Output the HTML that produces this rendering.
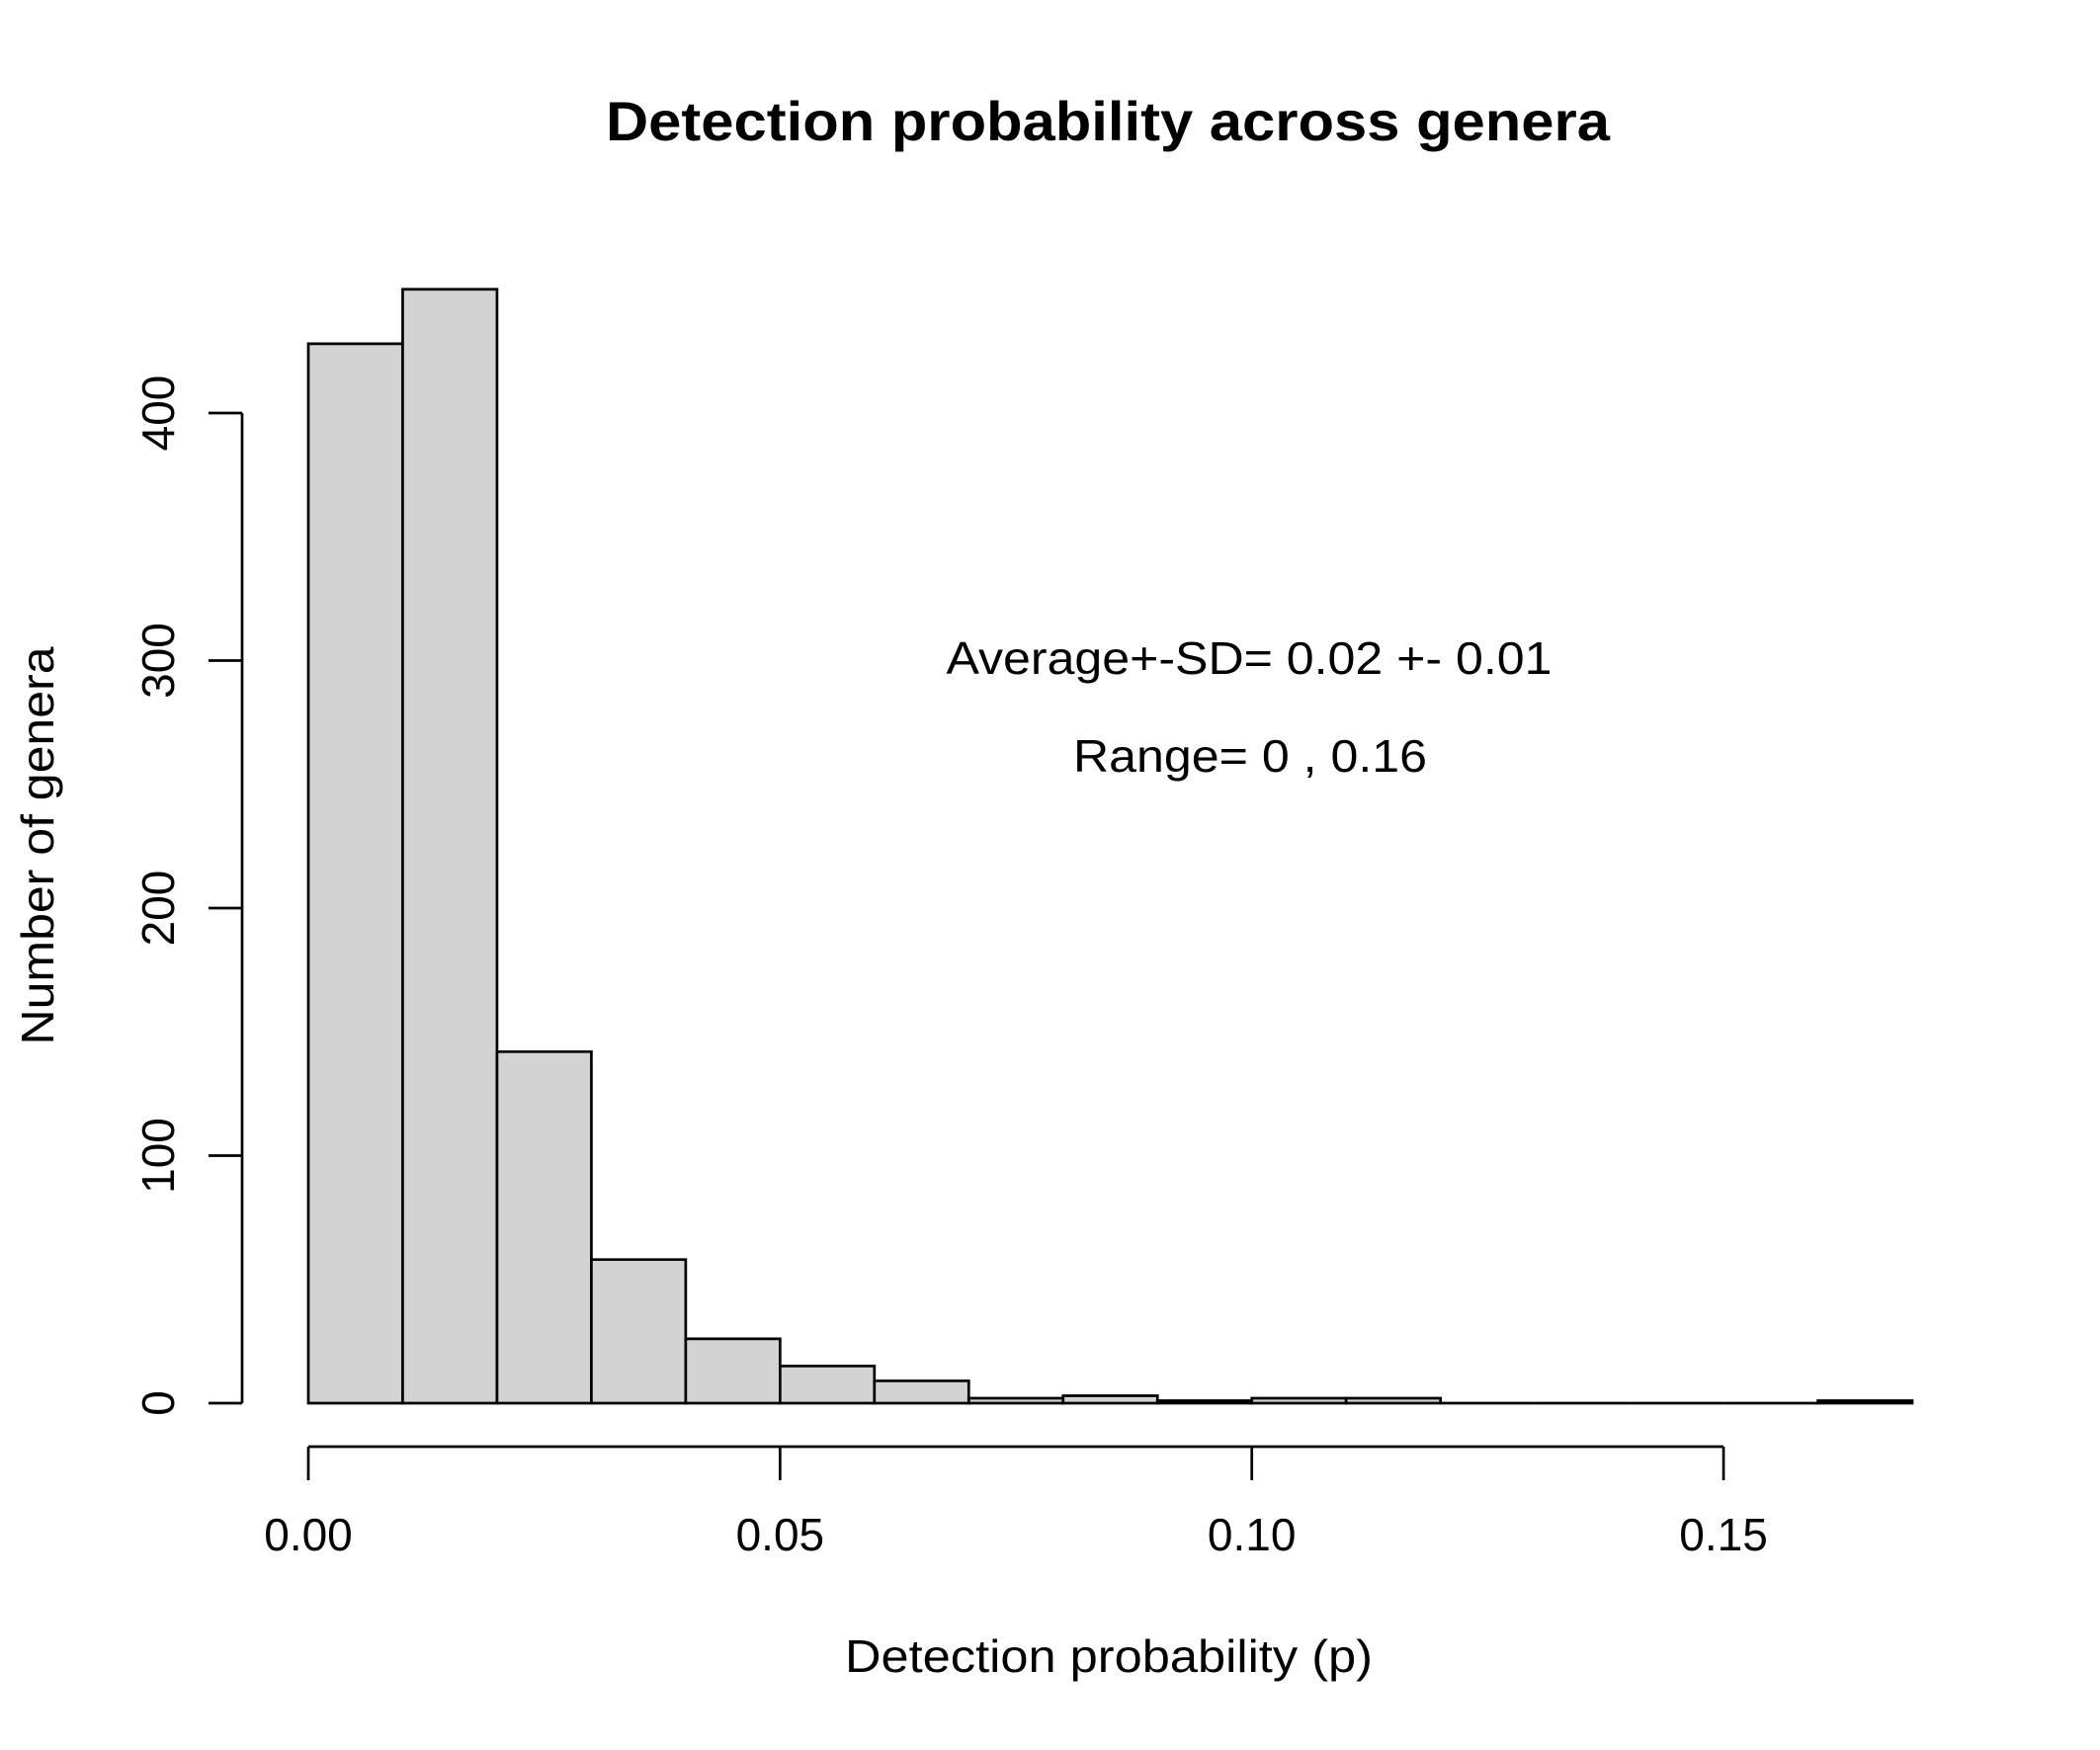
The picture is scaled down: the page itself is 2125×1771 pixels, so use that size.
<!DOCTYPE html>
<html><head><meta charset="utf-8"><style>html,body{margin:0;padding:0;background:#fff}svg{display:block}</style></head>
<body>
<svg id="chart" width="2125" height="1771" viewBox="0 0 2125 1771" xmlns="http://www.w3.org/2000/svg" font-family="Liberation Sans, Arial, sans-serif">
<rect width="2125" height="1771" fill="#fff"/>
<text x="1121" y="142" text-anchor="middle" font-size="56" font-weight="bold" textLength="1016" lengthAdjust="spacingAndGlyphs">Detection probability across genera</text>
<text x="1122" y="1692" text-anchor="middle" font-size="46" textLength="534" lengthAdjust="spacingAndGlyphs">Detection probability (p)</text>
<text transform="translate(54,856) rotate(-90)" text-anchor="middle" font-size="46" textLength="403" lengthAdjust="spacingAndGlyphs">Number of genera</text>
<text x="1264" y="682" text-anchor="middle" font-size="46" textLength="613" lengthAdjust="spacingAndGlyphs">Average+-SD= 0.02 +- 0.01</text>
<text x="1265" y="781" text-anchor="middle" font-size="46" textLength="358" lengthAdjust="spacingAndGlyphs">Range= 0 , 0.16</text>
<g id="bars"></g>
<g id="axes"></g>
</svg>
<script>
const binStarts = [0,0.01,0.02,0.03,0.04,0.05,0.06,0.07,0.08,0.09,0.10,0.11,0.12,0.13,0.14,0.15,0.16];
const counts = [428,450,142,58,26,15,9,2,3,1,2,2,0,0,0,0,1];
const binWidth = 0.01;
const xTicks = [0,0.05,0.10,0.15];
const xTickLabels = ["0.00","0.05","0.10","0.15"];
const yTicks = [0,100,200,300,400];
const yTickLabels = ["0","100","200","300","400"];

const NS = "http://www.w3.org/2000/svg";
const X0 = 312, XS = 9547;
const Y0 = 1420, YS = 2.505;
const xs = v => X0 + v * XS;
const ys = v => Y0 - v * YS;
function mk(tag, attrs, parent){const e=document.createElementNS(NS,tag);for(const k in attrs)e.setAttribute(k,attrs[k]);parent.appendChild(e);return e;}

const bars = document.getElementById('bars');
binStarts.forEach((b,i)=>{
  const x1 = xs(b), x2 = xs(b+binWidth), y = ys(counts[i]);
  const d = `M${x1},${Y0} L${x1},${y} L${x2},${y} L${x2},${Y0} Z`;
  const r = mk('path',{d:d,fill:'#d3d3d3',stroke:'#000','stroke-width':2.7},bars);
  
  
});

const axes = document.getElementById('axes');
const axY = 1464, tickLen = 34;
const xl = mk('line',{x1:xs(xTicks[0]),x2:xs(xTicks[xTicks.length-1]),y1:axY,y2:axY,stroke:'#000','stroke-width':2.7},axes);


xTicks.forEach((t,i)=>{
  const l = mk('line',{x1:xs(t),x2:xs(t),y1:axY,y2:axY+tickLen,stroke:'#000','stroke-width':2.7},axes);
  
  
  const tx = mk('text',{x:xs(t),y:1569,'text-anchor':'middle','font-size':46},axes);
  tx.textContent = xTickLabels[i];
  
  
});
const axX = 245;
const yl = mk('line',{x1:axX,x2:axX,y1:ys(yTicks[0]),y2:ys(yTicks[yTicks.length-1]),stroke:'#000','stroke-width':2.7},axes);


yTicks.forEach((t,i)=>{
  const l = mk('line',{x1:axX-tickLen,x2:axX,y1:ys(t),y2:ys(t),stroke:'#000','stroke-width':2.7},axes);
  
  
  const tx = mk('text',{transform:`translate(176,${ys(t)}) rotate(-90)`,'text-anchor':'middle','font-size':46},axes);
  tx.textContent = yTickLabels[i];
  
  
});
</script>
</body></html>
